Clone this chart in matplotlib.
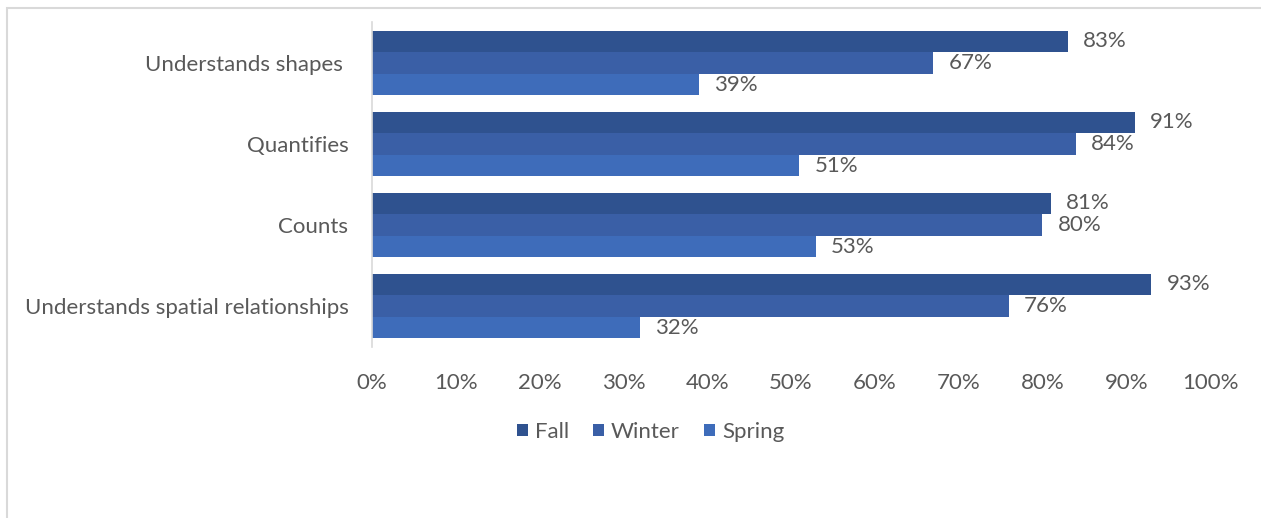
import numpy as np
import matplotlib
matplotlib.use("Agg")
from matplotlib import pyplot as plt
from matplotlib.patches import Rectangle

# data (top to bottom as shown)
categories = ["Understands shapes ", "Quantifies", "Counts", "Understands spatial relationships"]
series = ["Fall", "Winter", "Spring"]
fall = [83, 91, 81, 93]
winter = [67, 84, 80, 76]
spring = [39, 51, 53, 32]
xticks = [0, 10, 20, 30, 40, 50, 60, 70, 80, 90, 100]

colors = ["#2F528F", "#3A5FA6", "#3E6CBA"]
text_color = "#595959"
fs = 16

plt.rcParams['font.family'] = ['Lato', 'DejaVu Sans']

fig = plt.figure(figsize=(12.61, 5.18), dpi=100)
ax = fig.add_axes([0.295, 0.331, 0.6646, 0.6256])

y = np.arange(len(categories))
h = 0.8 / 3
for i, (name, vals) in enumerate(zip(series, [fall, winter, spring])):
    pos = y - 0.4 + h * (i + 0.5)
    bars = ax.barh(pos, vals, height=h, color=colors[i], label=name)
    for b, v in zip(bars, vals):
        ax.text(v + 1.8, b.get_y() + h / 2, f"{v}%", va="center", ha="left",
                fontsize=fs, color=text_color)

ax.set_ylim(len(categories) - 0.5, -0.5)
ax.set_xlim(0, 100)
ax.set_yticks(y)
ax.set_yticklabels(categories, fontsize=fs, color=text_color)
ax.set_xticks(xticks)
ax.set_xticklabels([f"{t}%" for t in xticks], fontsize=fs, color=text_color)
ax.tick_params(axis="both", length=0)
ax.tick_params(axis="y", pad=17)
ax.tick_params(axis="x", pad=19)
for s in ["top", "right", "bottom"]:
    ax.spines[s].set_visible(False)
ax.spines["left"].set_color("#D9D9D9")
ax.spines["left"].set_linewidth(1.2)

leg = fig.legend(loc="center", bbox_to_anchor=(0.516, 1 - 432 / 518), ncol=3,
                 frameon=False, fontsize=fs, handlelength=0.5, handleheight=0.5,
                 handletextpad=0.3, columnspacing=1.1)
for t in leg.get_texts():
    t.set_color(text_color)

# outer chart border
fig.patches.append(Rectangle((7 / 1261, -0.1), 1.2, 1 - 8 / 518 + 0.1,
                             transform=fig.transFigure, fill=False,
                             edgecolor="#D9D9D9", linewidth=1.5))

fig.savefig("out.png", dpi=100)
